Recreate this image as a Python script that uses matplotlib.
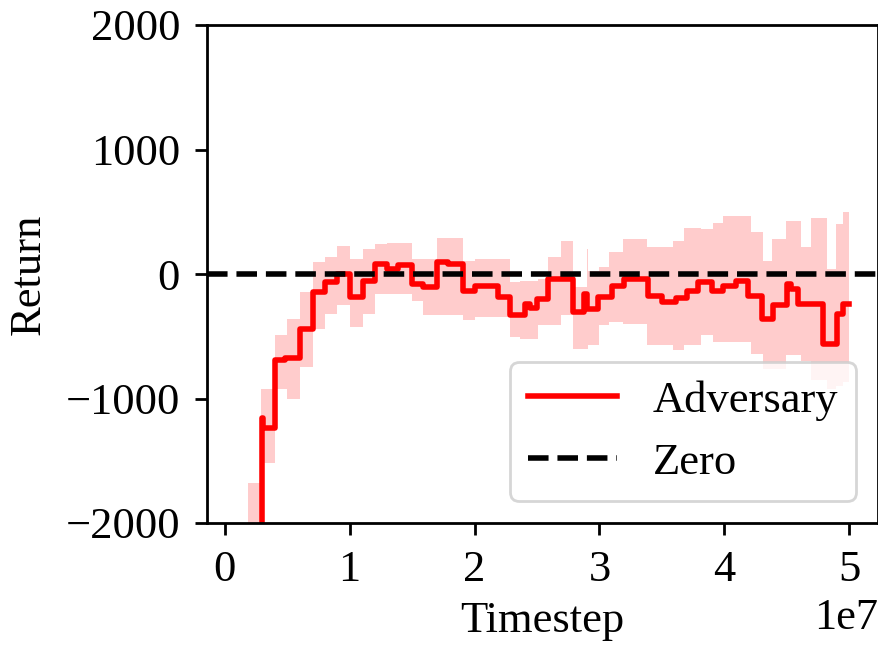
import numpy as np
import matplotlib
matplotlib.use('Agg')
import matplotlib.pyplot as plt

# step values (x in units of 1e7 timesteps)
line_x = [0.10, 0.19, 0.296, 0.31, 0.40, 0.48, 0.60, 0.71, 0.80, 0.90,
          1.00, 1.11, 1.20, 1.30, 1.39, 1.50, 1.59, 1.70, 1.79, 1.91,
          2.00, 2.19, 2.28, 2.40, 2.44, 2.50, 2.59, 2.79, 2.88, 2.90,
          2.99, 3.10, 3.20, 3.39, 3.50, 3.61, 3.70, 3.79, 3.90, 3.99,
          4.09, 4.19, 4.30, 4.39, 4.50, 4.53, 4.59, 4.79, 4.90, 4.95]
line_y = [-3500, -2600, -1160, -1240, -694, -675, -440, -147, -67, 0,
          -187, -53, 80, 40, 72, -80, -107, 93, 80, -133,
          -99, -187, -328, -240, -270, -200, -40, -307, -160, -280,
          -187, -93, -40, -173, -221, -195, -133, -61, -133, -93,
          -53, -173, -360, -253, -80, -120, -240, -560, -320, -240]

# shaded band (upper / lower)
band_x = [0.10, 0.19, 0.29, 0.40, 0.50, 0.60, 0.71, 0.80, 0.90, 1.00,
          1.11, 1.20, 1.30, 1.50, 1.59, 1.70, 1.91, 2.00, 2.28, 2.36,
          2.51, 2.59, 2.69, 2.79, 2.90, 2.91, 3.00, 3.08, 3.19, 3.38,
          3.59, 3.68, 3.81, 3.91, 3.99, 4.21, 4.31, 4.38, 4.49, 4.61,
          4.69, 4.82, 4.89, 4.95]
band_hi = [-2600, -1680, -920, -493, -360, -147, 93, 133, 227, 120,
           200, 240, 253, 120, 120, 293, 107, 120, -67, -56,
           -40, 133, 267, -107, 200, 27, 53, 173, 280, 213,
           267, 373, 360, 413, 464, 336, 104, 280, 424, 213,
           453, 40, 400, 500]
band_lo = [-4400, -3500, -1520, -920, -1000, -747, -440, -320, -253, -427,
           -320, -160, -160, -213, -333, -333, -373, -347, -507, -520,
           -413, -413, -333, -600, -600, -573, -413, -387, -400, -573,
           -613, -573, -493, -547, -547, -640, -760, -760, -653, -700,
           -850, -920, -900, -870]
x_end = 5.0
x_ticks = [0, 1, 2, 3, 4, 5]
y_ticks = [-2000, -1000, 0, 1000, 2000]

plt.rcParams['font.family'] = ['Liberation Serif', 'DejaVu Serif']
plt.rcParams['font.size'] = 16
plt.rcParams['axes.linewidth'] = 1.0
plt.rcParams['xtick.major.width'] = 1.0
plt.rcParams['ytick.major.width'] = 1.0
plt.rcParams['xtick.major.size'] = 4.2
plt.rcParams['ytick.major.size'] = 4.2
plt.rcParams['xtick.major.pad'] = 5.5
plt.rcParams['ytick.major.pad'] = 5.5

lx = np.array(line_x + [x_end]) * 1e7
ly = np.array(line_y + [line_y[-1]])
bx = np.array(band_x + [x_end]) * 1e7
bhi = np.array(band_hi + [band_hi[-1]])
blo = np.array(band_lo + [band_lo[-1]])

fig = plt.figure(figsize=(8.79 / 2, 6.45 / 2), dpi=200)
ax = fig.add_axes([207 / 879, 122 / 645, 671 / 879, 498 / 645])

ax.fill_between(bx, blo, bhi, step='post', color='red', alpha=0.2, linewidth=0)
ax.plot(lx, ly, drawstyle='steps-post', color='red', lw=2, label='Adversary')
ax.axhline(0, color='black', ls='--', lw=2, label='Zero')

ax.set_xlim(-0.142e7, 5.23e7)
ax.set_ylim(-2000, 2000)
ax.set_xticks(np.array(x_ticks) * 1e7)
ax.set_yticks(y_ticks)
ax.set_xlabel('Timestep')
ax.set_ylabel('Return', labelpad=6)
ax.legend(loc='lower right')

fig.savefig('out.png', dpi=200)
